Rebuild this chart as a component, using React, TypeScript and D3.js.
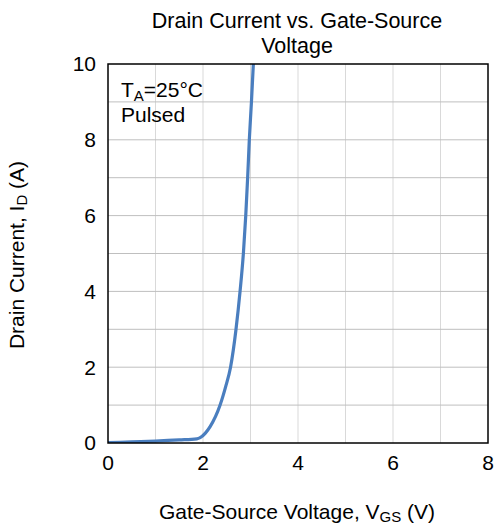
import React from "react";
import * as d3 from "d3";

const vgs = [0, 0.5, 1.0, 1.5, 1.87, 1.94, 2.05, 2.15, 2.36, 2.48, 2.58, 2.695, 2.78, 2.85, 2.9, 2.94, 2.975, 3.02, 3.06];
const id = [0.01, 0.03, 0.05, 0.08, 0.11, 0.14, 0.26, 0.43, 1.0, 1.5, 2.0, 3.0, 4.0, 5.0, 6.0, 7.0, 8.0, 9.0, 10.0];
const xTicks = [0, 2, 4, 6, 8];
const yTicks = [0, 2, 4, 6, 8, 10];
const xGrid = [1, 2, 3, 4, 5, 6, 7];
const yGrid = [1, 2, 3, 4, 5, 6, 7, 8, 9];

export default function App() {
  const W = 495, H = 527;
  const left = 108, right = 488, top = 64, bottom = 443;
  const x = d3.scaleLinear().domain([0, 8]).range([left, right]);
  const y = d3.scaleLinear().domain([0, 10]).range([bottom, top]);
  const line = d3.line<number>().x((_, i) => x(vgs[i])).y((d) => y(d)).curve(d3.curveMonotoneX);
  const font = "Liberation Sans, Arial, sans-serif";
  const fs = 21;
  const sub = 15;
  return (
    <svg width={W} height={H} style={{ position: "absolute", left: 0, top: 0 }} fontFamily={font}>
      <rect width={W} height={H} fill="#fff" />
      <text x={297} y={28} fontSize={21.5} textAnchor="middle">Drain Current vs. Gate-Source</text>
      <text x={297} y={53} fontSize={21.5} textAnchor="middle">Voltage</text>
      {xGrid.map((v) => (
        <line key={"xg" + v} x1={x(v)} x2={x(v)} y1={top} y2={bottom} stroke="#d9d9d9" strokeWidth={1} />
      ))}
      {yGrid.map((v) => (
        <line key={"yg" + v} x1={left} x2={right} y1={y(v)} y2={y(v)} stroke="#bfbfbf" strokeWidth={1} />
      ))}
      <clipPath id="clip">
        <rect x={left} y={top} width={right - left} height={bottom - top} />
      </clipPath>
      <path d={line(id) || ""} fill="none" stroke="#4a7ebf" strokeWidth={3.2} clipPath="url(#clip)" />
      <rect x={left} y={top} width={right - left} height={bottom - top} fill="none" stroke="#000" strokeWidth={1.5} />
      {yTicks.map((v) => (
        <text key={"yt" + v} x={96} y={y(v)} dy="0.35em" fontSize={fs} textAnchor="end">{v}</text>
      ))}
      {xTicks.map((v) => (
        <text key={"xt" + v} x={x(v)} y={470} fontSize={fs} textAnchor="middle">{v}</text>
      ))}
      <text x={121} y={97} fontSize={fs}>
        T<tspan fontSize={sub} dy={4}>A</tspan><tspan dy={-4}>=25°C</tspan>
      </text>
      <text x={121} y={122} fontSize={fs}>Pulsed</text>
      <text x={297} y={519} fontSize={fs} textAnchor="middle">
        Gate-Source Voltage, V<tspan fontSize={sub} dy={3}>GS</tspan><tspan dy={-3}> (V)</tspan>
      </text>
      <text transform={`translate(24,${255}) rotate(-90)`} fontSize={fs} textAnchor="middle">
        Drain Current, I<tspan fontSize={sub} dy={3}>D</tspan><tspan dy={-3}> (A)</tspan>
      </text>
    </svg>
  );
}
